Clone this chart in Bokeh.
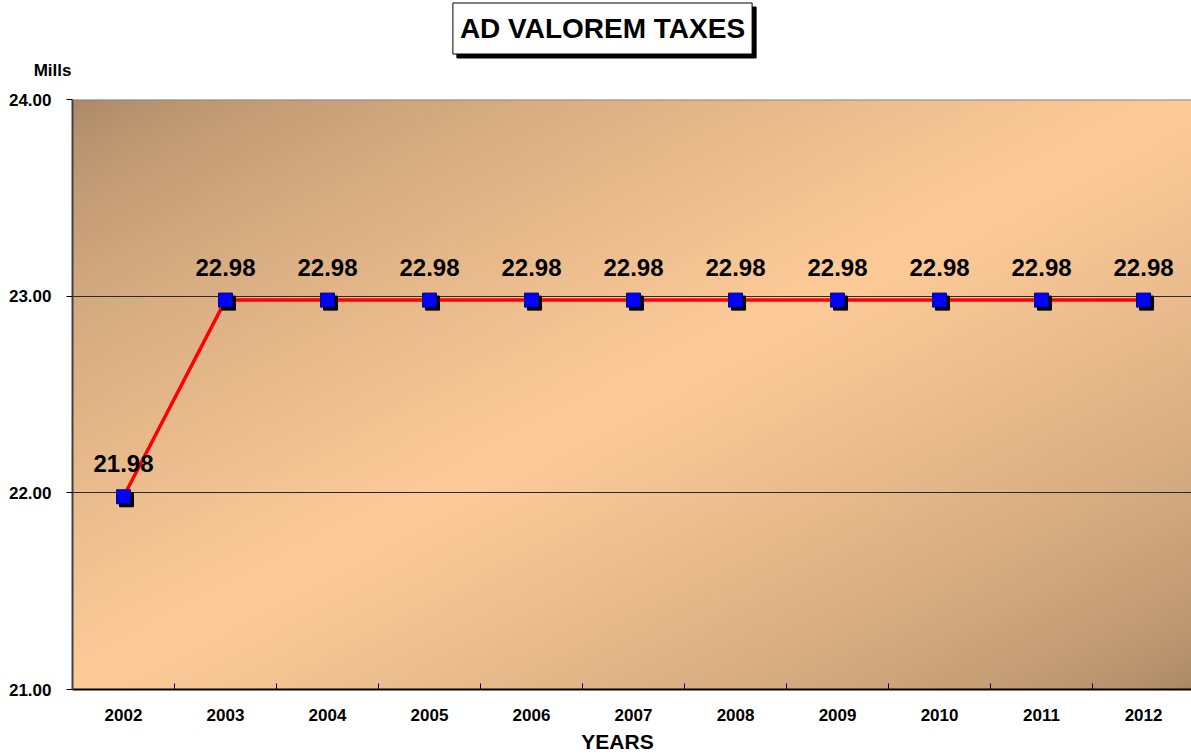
import numpy as np
from bokeh.plotting import figure
from bokeh.layouts import column
from bokeh.models import (ColumnDataSource, Range1d, FixedTicker, LabelSet, Label,
                          Span, PrintfTickFormatter)
from bokeh.core.properties import value
from bokeh.transform import dodge
from bokeh.embed import file_html
from bokeh.resources import INLINE

# ---- data ----
years = ["2002", "2003", "2004", "2005", "2006", "2007", "2008", "2009", "2010", "2011", "2012"]
mills = [21.98, 22.98, 22.98, 22.98, 22.98, 22.98, 22.98, 22.98, 22.98, 22.98, 22.98]
y_ticks = [21.0, 22.0, 23.0, 24.0]
title_text = "AD VALOREM TAXES"
y_title = "Mills"
x_title = "YEARS"

FONT = "Liberation Sans"
W = 1191
LEFT = 72
TOP_H, MAIN_H, BOT_H = 85, 644, 25

x_pos = [i + 0.5 for i in range(len(years))]
labels = ["%.2f" % v for v in mills]
src = ColumnDataSource(dict(x=x_pos, y=mills, lab=labels))


def strip_fig(h):
    f = figure(width=W, height=h, output_backend="svg", toolbar_location=None,
               x_range=Range1d(0, W - LEFT), y_range=Range1d(0, h),
               x_axis_type=None,
               min_border_left=LEFT, min_border_right=0, min_border_top=0, min_border_bottom=0)
    f.outline_line_color = None
    f.xgrid.visible = False
    f.ygrid.visible = False
    f.background_fill_color = "white"
    f.border_fill_color = "white"
    ax = f.yaxis[0]
    ax.axis_line_color = None
    ax.major_tick_line_color = None
    ax.minor_tick_line_color = None
    ax.major_tick_out = 0
    ax.major_tick_in = 0
    ax.minor_tick_out = 0
    ax.minor_tick_in = 0
    return f


# ---- top strip: title box with shadow and unit label ----
top = strip_fig(TOP_H)
ty = top.yaxis[0]
ty.ticker = FixedTicker(ticks=[TOP_H - 70])
ty.major_label_overrides = {TOP_H - 70: y_title}
ty.major_label_text_font = FONT
ty.major_label_text_font_style = "bold"
ty.major_label_text_font_size = "17px"
ty.major_label_text_color = "black"
ty.major_label_standoff = 1

for dx, dy, bgc in [(4, -4, "black"), (0, 0, "white")]:
    top.add_layout(Label(x=602 - LEFT, y=TOP_H - 28, x_units="screen", y_units="screen",
                         x_offset=dx, y_offset=dy, text=title_text,
                         text_align="center", text_baseline="middle",
                         text_font=FONT, text_font_style="bold", text_font_size="28px",
                         text_color="black",
                         background_fill_color=bgc, border_line_color="black",
                         border_line_width=1,
                         padding=dict(left=7, right=7, top=10, bottom=10)))

# ---- main plot ----
x_end = 10.97
p = figure(width=W, height=MAIN_H, output_backend="svg", toolbar_location=None,
           x_range=Range1d(0, x_end), y_range=Range1d(21, 24),
           min_border_left=LEFT, min_border_right=0, min_border_top=14, min_border_bottom=40)
p.outline_line_color = None
p.background_fill_color = "white"
p.border_fill_color = "white"

# gradient background of the plot area
ny, nx = 200, 370
u = np.linspace(0, 1, nx)[None, :]
v = np.linspace(0, 1, ny)[:, None]   # v=0 at bottom
t = (u + (1 - v)) / 2.0
s = np.clip(1 - np.abs(2 * t - 1), 0, 1) ** 0.65
light = np.array([253, 203, 152], dtype=float)
dark = np.array([168, 135, 102], dtype=float)
rgb = dark[None, None, :] + (light - dark)[None, None, :] * s[..., None]
img = np.empty((ny, nx), dtype=np.uint32)
view = img.view(dtype=np.uint8).reshape((ny, nx, 4))
view[..., 0] = rgb[..., 0].astype(np.uint8)
view[..., 1] = rgb[..., 1].astype(np.uint8)
view[..., 2] = rgb[..., 2].astype(np.uint8)
view[..., 3] = 255
bg = p.image_rgba(image=[img], x=0, y=21, dw=x_end, dh=3)
bg.level = "image"

# grid
p.xgrid.visible = False
p.ygrid.ticker = FixedTicker(ticks=[22.0, 23.0])
p.ygrid.grid_line_color = "#2a2a2a"
p.ygrid.grid_line_width = 1
p.add_layout(Span(location=24, dimension="width", line_color="#8a8a8a", line_width=2))

# axes
xa = p.xaxis[0]
xa.ticker = FixedTicker(ticks=x_pos, minor_ticks=[float(i) for i in range(1, 11)])
xa.major_label_overrides = {xp: yr for xp, yr in zip(x_pos, years)}
xa.major_tick_in = 0
xa.major_tick_out = 0
xa.minor_tick_in = 6
xa.minor_tick_out = 0
xa.minor_tick_line_color = "black"
xa.axis_line_color = "black"
xa.axis_line_width = 2
xa.major_label_text_font = FONT
xa.major_label_text_font_style = "bold"
xa.major_label_text_font_size = "17px"
xa.major_label_text_color = "black"
xa.major_label_standoff = 19

ya = p.yaxis[0]
ya.ticker = FixedTicker(ticks=y_ticks)
ya.formatter = PrintfTickFormatter(format="%.2f")
ya.major_tick_out = 6
ya.major_tick_in = 0
ya.minor_tick_out = 0
ya.minor_tick_in = 0
ya.major_tick_line_color = "black"
ya.axis_line_color = "#404040"
ya.axis_line_width = 2
ya.major_label_text_font = FONT
ya.major_label_text_font_style = "bold"
ya.major_label_text_font_size = "17px"
ya.major_label_text_color = "black"
ya.major_label_standoff = 15

# series
p.line("x", "y", source=src, line_color="#ff0000", line_width=3.5)
p.scatter(x=dodge("x", 3 / 102.0), y=dodge("y", -3 / 196.67), source=src, marker="square",
          size=14, fill_color="black", line_color="black")
p.scatter("x", "y", source=src, marker="square", size=14,
          fill_color="#0000ff", line_color="#000080", line_width=1)

p.add_layout(LabelSet(x="x", y="y", text="lab", source=src, y_offset=33,
                      text_align="center", text_baseline="middle",
                      text_font=value(FONT), text_font_style="bold", text_font_size="24px",
                      text_color="black"))

# ---- bottom strip: axis title ----
bot = strip_fig(BOT_H)
bot.yaxis[0].ticker = FixedTicker(ticks=[])
bot.add_layout(Label(x=617 - LEFT, y=BOT_H - 12, x_units="screen", y_units="screen", text=x_title,
                     text_align="center", text_baseline="middle",
                     text_font=FONT, text_font_style="bold", text_font_size="21px",
                     text_color="black"))

layout = column(top, p, bot, spacing=0)
open("out.html", "w").write(file_html(layout, INLINE))
